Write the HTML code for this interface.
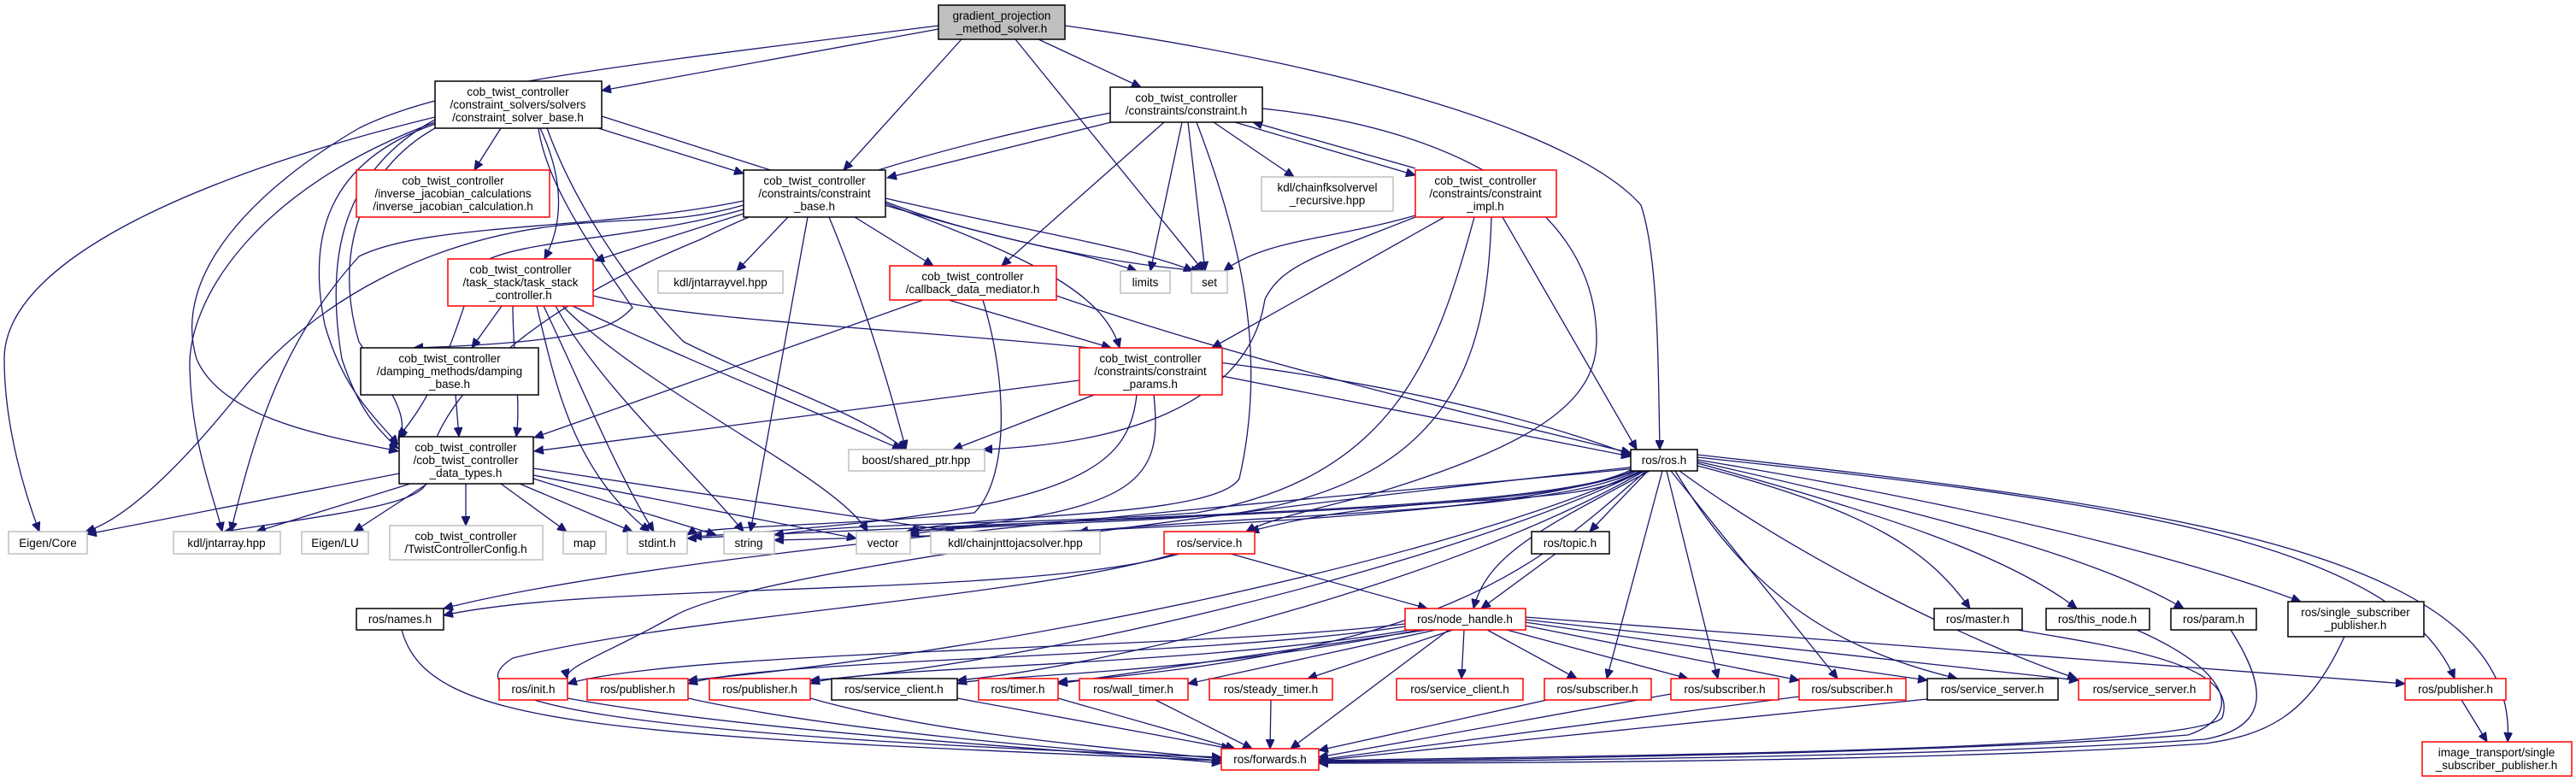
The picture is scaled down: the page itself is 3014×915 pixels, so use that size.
<!DOCTYPE html>
<html><head><meta charset="utf-8"><style>
html,body{margin:0;padding:0;background:#fff;}
svg{display:block;}
text{font-family:"Liberation Sans",sans-serif;font-size:13.5px;fill:#000;text-anchor:middle;}
.e{fill:none;stroke:#191970;stroke-width:1.3;marker-end:url(#a);}
.b{fill:#fff;stroke:#000;stroke-width:1.5;}
.r{fill:#fff;stroke:#ff0000;stroke-width:1.5;}
.g{fill:#fff;stroke:#bfbfbf;stroke-width:1.5;}
</style></head><body>
<svg width="3014" height="915" viewBox="0 0 3014 915" xmlns="http://www.w3.org/2000/svg">
<defs><marker id="a" markerUnits="userSpaceOnUse" markerWidth="12" markerHeight="10" refX="11" refY="5" orient="auto"><path d="M0,0 L11,5 L0,10 z" fill="#191970" stroke="#191970"/></marker></defs>
<g>
<!-- root edges -->
<path class="e" d="M1098,34 L704,106"/>
<path class="e" d="M1098,30 C700,80 520,100 420,150 C300,220 200,320 230,420 C260,490 380,510 466,528"/>
<path class="e" d="M1125,46 L987,199"/>
<path class="e" d="M1215,46 L1335,102"/>
<path class="e" d="M1188,46 L1408,317"/>
<path class="e" d="M1246,30 C1600,80 1850,160 1920,240 C1940,300 1940,420 1942,526"/>
<!-- csb edges -->
<path class="e" d="M586,150 L555,199"/>
<path class="e" d="M700,150 L870,203"/>
<path class="e" d="M632,150 C660,210 660,260 637,303"/>
<path class="e" d="M630,150 C640,220 700,300 740,360 C720,380 700,400 484,407"/>
<path class="e" d="M509,145 C380,190 360,280 380,380 C400,450 430,480 466,520"/>
<path class="e" d="M509,140 C400,200 380,300 400,420 C420,480 440,500 466,525"/>
<path class="e" d="M509,137 C250,200 5,300 5,420 C5,500 30,580 46,622"/>
<path class="e" d="M509,143 C300,220 220,350 222,430 C224,520 250,580 260,622"/>
<path class="e" d="M509,150 C420,200 390,300 420,400 C460,460 480,490 466,515"/>
<path class="e" d="M640,150 C680,260 760,360 800,400 C900,450 1000,480 1060,526"/>
<path class="e" d="M704,136 C1000,230 1200,300 1405,317"/>
<!-- constraint.h edges -->
<path class="e" d="M1300,143 L1038,208"/>
<path class="e" d="M1300,132 C1050,180 900,240 820,280 C600,370 500,480 500,560 C500,590 400,600 262,622"/>
<path class="e" d="M1362,143 L1172,311"/>
<path class="e" d="M1383,143 L1346,317"/>
<path class="e" d="M1390,143 L1410,317"/>
<path class="e" d="M1420,143 L1514,207"/>
<path class="e" d="M1445,143 L1656,205"/>
<path class="e" d="M1656,197 L1466,143"/>
<path class="e" d="M1400,143 C1460,300 1480,430 1450,560 C1420,610 1100,600 1064,624"/>
<path class="e" d="M1477,127 C1700,150 1870,240 1868,400 C1866,470 1800,520 1600,580 C1520,600 1480,610 1458,622"/>
<!-- constraint_impl edges -->
<path class="e" d="M1656,252 C1560,280 1480,280 1432,317"/>
<path class="e" d="M1690,254 L1418,407"/>
<path class="e" d="M1656,254 C1540,300 1500,310 1480,350 C1460,480 1300,520 1150,526"/>
<path class="e" d="M1758,254 L1915,526"/>
<path class="e" d="M1725,254 C1680,420 1630,560 1400,600 C1200,615 1000,610 906,626"/>
<path class="e" d="M1745,254 C1740,420 1700,560 1450,600 C1300,615 1120,612 1064,626"/>
<!-- constraint_base edges -->
<path class="e" d="M870,250 L696,305"/>
<path class="e" d="M922,254 L862,317"/>
<path class="e" d="M1000,254 L1092,311"/>
<path class="e" d="M1036,232 C1200,270 1330,290 1396,317"/>
<path class="e" d="M1036,236 C1150,280 1250,290 1330,317"/>
<path class="e" d="M1036,238 C1200,300 1290,340 1310,407"/>
<path class="e" d="M945,254 L878,622"/>
<path class="e" d="M970,254 C1010,350 1040,450 1060,526"/>
<path class="e" d="M870,240 C800,260 760,255 700,260 C500,270 360,360 280,460 C200,560 140,610 100,622"/>
<path class="e" d="M870,235 C700,270 500,260 420,300 C330,400 300,500 270,622"/>
<path class="e" d="M870,245 C750,280 600,280 560,310 C540,360 520,450 466,511"/>
<!-- callback edges -->
<path class="e" d="M1110,351 L1300,407"/>
<path class="e" d="M1080,351 L625,512"/>
<path class="e" d="M1150,351 C1180,450 1180,560 1140,600 C1000,615 820,615 804,626"/>
<path class="e" d="M1236,346 C1450,420 1700,480 1908,530"/>
<!-- task_stack edges -->
<path class="e" d="M587,358 L552,407"/>
<path class="e" d="M600,358 C600,420 610,470 604,511"/>
<path class="e" d="M628,358 C650,450 670,550 760,622"/>
<path class="e" d="M636,358 C680,450 720,550 765,622"/>
<path class="e" d="M650,358 C700,450 820,560 870,622"/>
<path class="e" d="M658,358 C760,460 980,560 1015,622"/>
<path class="e" d="M670,358 C800,420 950,480 1055,526"/>
<path class="e" d="M694,346 C900,400 1500,380 1908,532"/>
<!-- damping -->
<path class="e" d="M533,462 L537,511"/>
<!-- params edges -->
<path class="e" d="M1263,445 L625,528"/>
<path class="e" d="M1280,462 L1115,526"/>
<path class="e" d="M1430,440 L1908,534"/>
<path class="e" d="M1330,462 C1320,550 1260,600 810,628"/>
<path class="e" d="M1350,462 C1360,560 1340,600 1060,622"/>
<!-- data_types edges -->
<path class="e" d="M467,554 L102,625"/>
<path class="e" d="M480,566 L300,622"/>
<path class="e" d="M500,566 L414,622"/>
<path class="e" d="M545,566 L545,615"/>
<path class="e" d="M586,566 L663,622"/>
<path class="e" d="M608,566 L740,622"/>
<path class="e" d="M624,560 L838,626"/>
<path class="e" d="M624,556 L1002,630"/>
<path class="e" d="M624,548 L1118,622"/>
<!-- ros.h edges -->
<path class="e" d="M1908,550 C1800,600 1400,620 906,632"/>
<path class="e" d="M1910,551 C1800,600 1300,600 1064,622"/>
<path class="e" d="M1912,551 C1800,600 1400,600 804,630"/>
<path class="e" d="M1915,551 C1820,600 1500,600 1262,622"/>
<path class="e" d="M1918,551 C1850,600 1650,570 1462,622"/>
<path class="e" d="M1928,551 L1860,622"/>
<path class="e" d="M1930,551 C1800,620 1740,650 1724,712"/>
<path class="e" d="M1915,548 C1600,580 800,640 519,712"/>
<path class="e" d="M1915,546 C1600,580 900,660 790,720 C700,770 660,780 664,794"/>
<path class="e" d="M1920,551 C1700,650 1200,760 805,796"/>
<path class="e" d="M1922,551 C1700,660 1200,780 948,796"/>
<path class="e" d="M1924,551 C1700,680 1300,780 1120,796"/>
<path class="e" d="M1926,551 C1800,660 1700,760 1238,798"/>
<path class="e" d="M1945,551 L1880,794"/>
<path class="e" d="M1950,551 L2010,794"/>
<path class="e" d="M1955,551 L2150,794"/>
<path class="e" d="M1960,551 C2050,700 2150,760 2290,794"/>
<path class="e" d="M1965,551 C2100,650 2300,750 2430,794"/>
<path class="e" d="M1986,545 C2200,600 2260,650 2305,712"/>
<path class="e" d="M1986,542 C2200,600 2350,650 2430,712"/>
<path class="e" d="M1986,540 C2250,600 2450,650 2555,712"/>
<path class="e" d="M1986,538 C2300,590 2550,650 2692,704"/>
<path class="e" d="M1986,535 C2400,580 2800,620 2872,794"/>
<path class="e" d="M1986,532 C2500,590 2950,640 2934,868"/>
<!-- service.h, topic.h -->
<path class="e" d="M1380,648 C1200,700 700,680 519,720"/>
<path class="e" d="M1440,648 L1670,712"/>
<path class="e" d="M1375,648 C1200,700 800,720 600,770 C520,820 700,860 1429,886"/>
<path class="e" d="M1820,648 L1733,712"/>
<!-- node_handle edges -->
<path class="e" d="M1644,730 C1400,760 800,760 664,800"/>
<path class="e" d="M1644,733 C1400,770 900,770 805,800"/>
<path class="e" d="M1650,737 C1400,780 1000,780 948,800"/>
<path class="e" d="M1660,737 C1400,790 1150,790 1120,800"/>
<path class="e" d="M1670,737 L1238,800"/>
<path class="e" d="M1680,737 L1390,800"/>
<path class="e" d="M1700,737 L1530,794"/>
<path class="e" d="M1713,737 L1710,794"/>
<path class="e" d="M1740,737 L1845,794"/>
<path class="e" d="M1763,737 L1975,794"/>
<path class="e" d="M1784,732 L2105,796"/>
<path class="e" d="M1784,728 L2255,796"/>
<path class="e" d="M1784,725 L2432,796"/>
<path class="e" d="M1784,722 L2814,800"/>
<path class="e" d="M1695,737 L1510,876"/>
<!-- to forwards -->
<path class="e" d="M470,737 C500,850 700,860 1429,890"/>
<path class="e" d="M664,817 C900,860 1300,880 1429,893"/>
<path class="e" d="M805,817 C1000,860 1300,880 1429,890"/>
<path class="e" d="M948,817 C1100,860 1300,875 1429,888"/>
<path class="e" d="M1120,817 L1440,876"/>
<path class="e" d="M1238,817 L1445,876"/>
<path class="e" d="M1352,819 L1465,876"/>
<path class="e" d="M1487,819 L1486,876"/>
<path class="e" d="M1810,819 L1543,878"/>
<path class="e" d="M1955,812 L1543,886"/>
<path class="e" d="M2105,815 L1543,889"/>
<path class="e" d="M2255,818 L1543,890"/>
<path class="e" d="M2360,737 C2500,760 2620,780 2600,840 C2560,880 1800,885 1543,890"/>
<path class="e" d="M2500,737 C2620,790 2620,840 2560,860 C2300,880 1800,888 1543,891"/>
<path class="e" d="M2610,737 C2650,800 2660,850 2580,865 C2300,885 1800,890 1543,892"/>
<path class="e" d="M2743,745 C2700,840 2650,860 2580,870 C2300,890 1800,893 1543,893"/>
<path class="e" d="M2880,819 L2910,868"/>
</g>
<g>
<rect x="1098" y="6" width="148" height="40" fill="#bfbfbf" stroke="#000" stroke-width="1.5"/><text x="1172" y="23">gradient_projection</text><text x="1172" y="38">_method_solver.h</text>
<rect class="b" x="509" y="95" width="195" height="55"/><text x="606" y="112">cob_twist_controller</text><text x="606" y="127">/constraint_solvers/solvers</text><text x="606" y="142">/constraint_solver_base.h</text>
<rect class="r" x="417" y="199" width="226" height="55"/><text x="530" y="216">cob_twist_controller</text><text x="530" y="231">/inverse_jacobian_calculations</text><text x="530" y="246">/inverse_jacobian_calculation.h</text>
<rect class="b" x="870" y="199" width="166" height="55"/><text x="953" y="216">cob_twist_controller</text><text x="953" y="231">/constraints/constraint</text><text x="953" y="246">_base.h</text>
<rect class="b" x="1299" y="102" width="178" height="41"/><text x="1388" y="119">cob_twist_controller</text><text x="1388" y="134">/constraints/constraint.h</text>
<rect class="g" x="1476" y="207" width="154" height="40"/><text x="1553" y="224">kdl/chainfksolvervel</text><text x="1553" y="239">_recursive.hpp</text>
<rect class="r" x="1656" y="199" width="165" height="55"/><text x="1738" y="216">cob_twist_controller</text><text x="1738" y="231">/constraints/constraint</text><text x="1738" y="246">_impl.h</text>
<rect class="r" x="524" y="303" width="170" height="55"/><text x="609" y="320">cob_twist_controller</text><text x="609" y="335">/task_stack/task_stack</text><text x="609" y="350">_controller.h</text>
<rect class="g" x="770" y="317" width="146" height="26"/><text x="843" y="335">kdl/jntarrayvel.hpp</text>
<rect class="r" x="1041" y="311" width="195" height="40"/><text x="1138" y="328">cob_twist_controller</text><text x="1138" y="343">/callback_data_mediator.h</text>
<rect class="g" x="1311" y="317" width="58" height="26"/><text x="1340" y="335">limits</text>
<rect class="g" x="1394" y="317" width="42" height="26"/><text x="1415" y="335">set</text>
<rect class="b" x="422" y="407" width="208" height="55"/><text x="526" y="424">cob_twist_controller</text><text x="526" y="439">/damping_methods/damping</text><text x="526" y="454">_base.h</text>
<rect class="r" x="1263" y="407" width="167" height="55"/><text x="1346" y="424">cob_twist_controller</text><text x="1346" y="439">/constraints/constraint</text><text x="1346" y="454">_params.h</text>
<rect class="b" x="467" y="511" width="157" height="55"/><text x="545" y="528">cob_twist_controller</text><text x="545" y="543">/cob_twist_controller</text><text x="545" y="558">_data_types.h</text>
<rect class="g" x="993" y="526" width="159" height="25"/><text x="1072" y="543">boost/shared_ptr.hpp</text>
<rect class="b" x="1908" y="526" width="78" height="25"/><text x="1947" y="543">ros/ros.h</text>
<rect class="g" x="10" y="622" width="92" height="26"/><text x="56" y="640">Eigen/Core</text>
<rect class="g" x="203" y="622" width="125" height="26"/><text x="265" y="640">kdl/jntarray.hpp</text>
<rect class="g" x="353" y="622" width="78" height="26"/><text x="392" y="640">Eigen/LU</text>
<rect class="g" x="456" y="615" width="179" height="40"/><text x="545" y="632">cob_twist_controller</text><text x="545" y="647">/TwistControllerConfig.h</text>
<rect class="g" x="659" y="622" width="50" height="26"/><text x="684" y="640">map</text>
<rect class="g" x="734" y="622" width="70" height="26"/><text x="769" y="640">stdint.h</text>
<rect class="g" x="847" y="622" width="59" height="26"/><text x="876" y="640">string</text>
<rect class="g" x="1002" y="622" width="63" height="26"/><text x="1033" y="640">vector</text>
<rect class="g" x="1089" y="622" width="198" height="26"/><text x="1188" y="640">kdl/chainjnttojacsolver.hpp</text>
<rect class="r" x="1362" y="622" width="106" height="26"/><text x="1415" y="640">ros/service.h</text>
<rect class="b" x="1792" y="622" width="91" height="26"/><text x="1837" y="640">ros/topic.h</text>
<rect class="b" x="417" y="712" width="102" height="25"/><text x="468" y="729">ros/names.h</text>
<rect class="r" x="1644" y="712" width="141" height="25"/><text x="1714" y="729">ros/node_handle.h</text>
<rect class="b" x="2263" y="712" width="103" height="25"/><text x="2314" y="729">ros/master.h</text>
<rect class="b" x="2394" y="712" width="121" height="25"/><text x="2454" y="729">ros/this_node.h</text>
<rect class="b" x="2540" y="712" width="100" height="25"/><text x="2590" y="729">ros/param.h</text>
<rect class="b" x="2677" y="704" width="159" height="41"/><text x="2756" y="721">ros/single_subscriber</text><text x="2756" y="736">_publisher.h</text>
<rect class="r" x="584" y="794" width="80" height="25"/><text x="624" y="811">ros/init.h</text>
<rect class="r" x="687" y="794" width="118" height="25"/><text x="746" y="811">ros/publisher.h</text>
<rect class="r" x="830" y="794" width="118" height="25"/><text x="889" y="811">ros/publisher.h</text>
<rect class="b" x="973" y="794" width="147" height="25"/><text x="1046" y="811">ros/service_client.h</text>
<rect class="r" x="1145" y="794" width="93" height="25"/><text x="1191" y="811">ros/timer.h</text>
<rect class="r" x="1263" y="794" width="127" height="25"/><text x="1326" y="811">ros/wall_timer.h</text>
<rect class="r" x="1415" y="794" width="144" height="25"/><text x="1487" y="811">ros/steady_timer.h</text>
<rect class="r" x="1634" y="794" width="148" height="25"/><text x="1708" y="811">ros/service_client.h</text>
<rect class="r" x="1807" y="794" width="125" height="25"/><text x="1869" y="811">ros/subscriber.h</text>
<rect class="r" x="1955" y="794" width="126" height="25"/><text x="2018" y="811">ros/subscriber.h</text>
<rect class="r" x="2105" y="794" width="125" height="25"/><text x="2167" y="811">ros/subscriber.h</text>
<rect class="b" x="2255" y="794" width="153" height="25"/><text x="2331" y="811">ros/service_server.h</text>
<rect class="r" x="2432" y="794" width="154" height="25"/><text x="2509" y="811">ros/service_server.h</text>
<rect class="r" x="2814" y="794" width="118" height="25"/><text x="2873" y="811">ros/publisher.h</text>
<rect class="r" x="1429" y="876" width="114" height="25"/><text x="1486" y="893">ros/forwards.h</text>
<rect class="r" x="2834" y="868" width="175" height="40"/><text x="2921" y="885">image_transport/single</text><text x="2921" y="900">_subscriber_publisher.h</text>
</g>
</svg>
</body></html>
